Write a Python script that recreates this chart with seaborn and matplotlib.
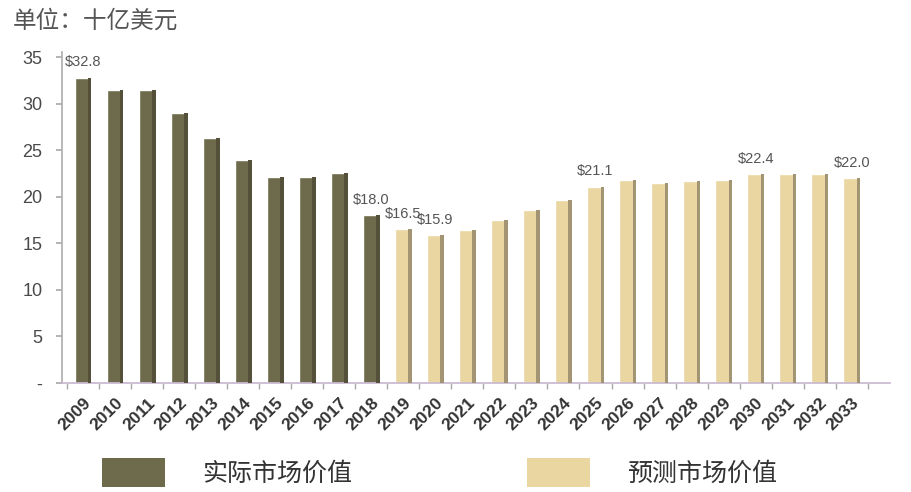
import pandas as pd
import numpy as np
import matplotlib
matplotlib.use('Agg')
import matplotlib.pyplot as plt
import seaborn as sns
from matplotlib.patches import Patch, Rectangle

# data (billion USD)
years = [str(y) for y in range(2009, 2034)]
values = [32.8, 31.5, 31.5, 29.0, 26.3, 24.0, 22.1, 22.1, 22.5, 18.0,
          16.5, 15.9, 16.4, 17.5, 18.6, 19.7, 21.1, 21.8, 21.5, 21.7,
          21.8, 22.4, 22.4, 22.4, 22.0]
kinds = ['实际市场价值'] * 10 + ['预测市场价值'] * 15
labelled = {'2009': '$32.8', '2018': '$18.0', '2019': '$16.5', '2020': '$15.9',
            '2025': '$21.1', '2030': '$22.4', '2033': '$22.0'}

df = pd.DataFrame({'year': years, 'value': values, 'kind': kinds})

sns.set_theme(style='white')
plt.rcParams['font.family'] = ['Liberation Sans', 'Noto Sans CJK SC', 'DejaVu Sans']

front = {'实际市场价值': '#6e6a4c', '预测市场价值': '#e9d6a0'}
side = {'实际市场价值': '#545039', '预测市场价值': '#a39574'}

fig = plt.figure(figsize=(9.12, 4.92), dpi=100)
ax = fig.add_axes([0.068, 0.2215, 0.908, 0.672])

sns.barplot(data=df, x='year', y='value', hue='kind', palette=front,
            dodge=False, width=0.52, saturation=1, legend=False, ax=ax)

# darker right side to mimic the 3D look
for p in ax.patches:
    if p.get_height() <= 0:
        continue
    k = '实际市场价值' if p.get_facecolor()[0] < 0.6 else '预测市场价值'
    w = p.get_width()
    ax.add_patch(Rectangle((p.get_x() + w * 0.8, 0), w * 0.2, p.get_height(),
                           facecolor=side[k], edgecolor='none', zorder=3))

for i, (y, v) in enumerate(zip(years, values)):
    if y in labelled:
        ax.text(i, v + 0.9, labelled[y], ha='center', va='bottom',
                fontsize=10.5, color='#555555')

ax.set_xlim(-0.66, 25.2)
ax.set_ylim(0, 35.5)
ax.set_yticks([0, 5, 10, 15, 20, 25, 30, 35])
ax.set_yticklabels(['-', '5', '10', '15', '20', '25', '30', '35'],
                   fontsize=13, color='#4a4a4a')
ax.tick_params(axis='y', left=True, length=4, color='#aaaaaa', pad=10)
ax.set_xticks(range(len(years)))
ax.set_xticks(np.arange(-0.5, len(years), 1), minor=True)
ax.tick_params(axis='x', which='major', bottom=False, length=0, pad=9)
ax.tick_params(axis='x', which='minor', bottom=True, length=4, color='#aaaaaa')
ax.set_xticklabels(years, rotation=45, ha='right', rotation_mode='anchor',
                   fontsize=12.5, color='#333333', fontweight='bold')
ax.set_xlabel('')
ax.set_ylabel('')
for s in ['top', 'right']:
    ax.spines[s].set_visible(False)
ax.spines['left'].set_color('#b0b0b0')
ax.spines['bottom'].set_color('#c8b8d0')

fig.text(0.014, 0.958, '单位：十亿美元', fontsize=17, color='#555555',
         family=['Noto Sans CJK SC'], va='center')

handles = [Patch(facecolor=front[k], edgecolor='none') for k in front]
fig.legend(handles, list(front.keys()), loc='center', bbox_to_anchor=(0.482, 0.04),
           ncol=2, frameon=False, handlelength=2.5, handleheight=1.4,
           handletextpad=1.5, columnspacing=7.0,
           prop={'family': ['Noto Sans CJK SC'], 'size': 18})
for t in fig.legends[0].get_texts():
    t.set_color('#333333')

fig.savefig('out.png', dpi=100, facecolor='white')
